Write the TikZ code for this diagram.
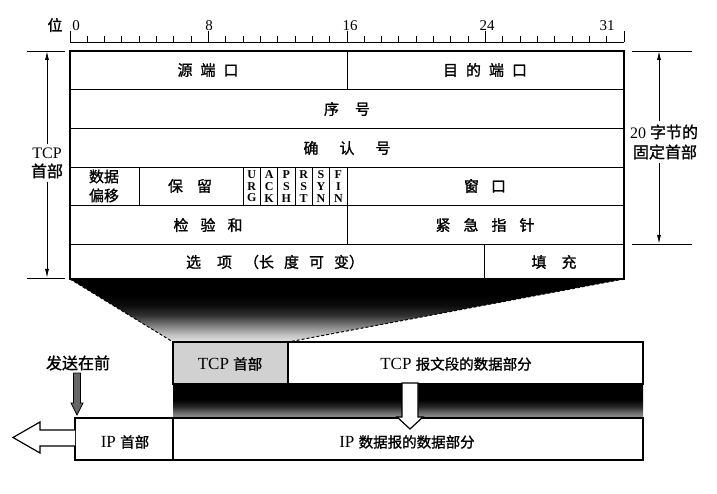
\documentclass[tikz,border=0pt]{standalone}
\usepackage{fontspec}
\setmainfont{Liberation Serif}
\newfontfamily\cjk[FakeBold=1.2]{Noto Sans CJK SC}
\usetikzlibrary{arrows.meta}
\newcommand\zh[1]{{\cjk #1}}
\newcommand\zs[1]{{\cjk\fontsize{14.5}{17}\selectfont #1}}
\newcommand\gp[1]{\hspace{#1pt}}
\pgfdeclareverticalshading{funnelshade}{100bp}{color(0bp)=(black!10); color(25bp)=(black!10); color(31bp)=(black!25); color(38bp)=(black!50); color(46bp)=(black!80); color(54bp)=(black!95); color(62bp)=(black); color(100bp)=(black)}
\pgfdeclareverticalshading{segshade}{100bp}{color(0bp)=(black!40); color(25bp)=(black!40); color(33bp)=(black!58); color(42bp)=(black!85); color(52bp)=(black); color(100bp)=(black)}
\begin{document}
\begin{tikzpicture}[x=1pt,y=-1pt,
  tb/.style={font=\cjk\fontsize{15}{18}\selectfont, inner sep=0pt},
  side/.style={font=\fontsize{16}{19}\selectfont, inner sep=3pt},
  sidezh/.style={font=\cjk\fontsize{16}{19}\selectfont, inner sep=3pt},
  boxt/.style={font=\fontsize{17}{20}\selectfont, inner sep=0pt},
  flag/.style={font=\bfseries\fontsize{12}{11.6}\selectfont, align=center, inner sep=0pt},
  rul/.style={font=\fontsize{15}{18}\selectfont, inner sep=0pt},
  dim/.style={line width=0.9pt, -{Latex[length=9pt,width=4pt]}},
  thinl/.style={line width=0.9pt},
  frame/.style={line width=1.6pt},
  hollow/.style={draw=black, fill=white, line width=1.2pt, line join=miter}]

\useasboundingbox (0,0) rectangle (717,494);

% ---------- ruler ----------
\draw[thinl] (70,42) -- (624,42);
\foreach \i in {0,...,32} \draw[thinl] ({70+\i*17.3125},42) -- ++(0,-6);
\foreach \i in {0,8,16,24,32} \draw[thinl] ({70+\i*17.3125},42) -- ++(0,-11);
\node[tb] (wei) at (55,25) {位};
\node[rul] (b0) at (76,26) {0};
\node[rul] (b8) at (209,26) {8};
\node[rul] (b16) at (350,26) {16};
\node[rul] (b24) at (487,26) {24};
\node[rul] (b31) at (607,26) {31};

% ---------- funnel shading ----------
\shade[shading=funnelshade]
  (70,279) -- (624,279) -- (288,342) -- (173,342) -- cycle;
\draw[dashed, line width=1pt, dash pattern=on 3pt off 2pt] (70,279) -- (173,342);
\draw[dashed, line width=1pt, dash pattern=on 3pt off 2pt] (624,279) -- (288,342);

% ---------- header table ----------
\fill[white] (70,51) rectangle (624,279);
\foreach \yy in {89.5,128,167,205.5,244} \draw[thinl] (70,\yy) -- (624,\yy);
\draw[thinl] (347,51) -- (347,89.5);
\draw[thinl] (139.25,167) -- (139.25,205.5);
\foreach \i in {10,...,15} \draw[thinl] ({70+\i*17.3125},167) -- ({70+\i*17.3125},205.5);
\draw[thinl] (347,167) -- (347,244);
\draw[thinl] (484.5,244) -- (484.5,279);
\draw[frame] (70,51) rectangle (624,279);

\node[tb] (srcport) at (208,70) {源\gp8端\gp8口};
\node[tb] (dstport) at (485,70) {目\gp8的\gp8端\gp8口};
\node[tb] (seq) at (347,109) {序\gp{16}号};
\node[tb] (ack) at (347,148) {确\gp{21}认\gp{21}号};
\node[tb, align=center, font=\cjk\fontsize{15}{19}\selectfont] (off) at (104,186) {数据\\偏移};
\node[tb] (rsv) at (190,186) {保\gp{14}留};
\node[flag] (urg) at ({70+10.5*17.3125},186.5) {U\\R\\G};
\node[flag] (ackf) at ({70+11.5*17.3125},186.5) {A\\C\\K};
\node[flag] (psh) at ({70+12.5*17.3125},186.5) {P\\S\\H};
\node[flag] (rst) at ({70+13.5*17.3125},186.5) {R\\S\\T};
\node[flag] (syn) at ({70+14.5*17.3125},186.5) {S\\Y\\N};
\node[flag] (fin) at ({70+15.5*17.3125},186.5) {F\\I\\N};
\node[tb] (win) at (485,186) {窗\gp{12}口};
\node[tb] (chk) at (208,225) {检\gp{12}验\gp{12}和};
\node[tb] (urgp) at (485,225) {紧\gp{13}急\gp{13}指\gp{13}针};
\node[tb] (opt) at (275,262) {选\gp{16}项\gp{12}（长\gp{10}度\gp{10}可\gp{10}变）};
\node[tb] (pad) at (554,262) {填\gp{15}充};

% ---------- left dimension ----------
\draw[thinl] (27,51) -- (65,51);
\draw[thinl] (27,278) -- (65,278);
\coordinate (ltop) at (47,51);
\coordinate (lbot) at (47,278);
\node[side] (tl1) at (47,153) {TCP};
\node[sidezh] (tl2) at (47,171) {首部};
\draw[dim] (tl1.north) -- (ltop);
\draw[dim] (tl2.south) -- (lbot);

% ---------- right dimension ----------
\draw[thinl] (632,51) -- (692,51);
\draw[thinl] (632,244) -- (692,244);
\coordinate (rtop) at (659,51);
\coordinate (rbot) at (659,244);
\node[side] (r1) at (664,132) {20 \zh{字节的}};
\node[sidezh] (r2) at (665,152) {固定首部};
\draw[dim] (r1.north -| rtop) -- (rtop);
\draw[dim] (r2.south -| rbot) -- (rbot);

% ---------- TCP segment ----------
\shade[shading=segshade] (173,384) rectangle (643,418);
\fill[black!18] (173,342) rectangle (288,384);
\draw[line width=1.5pt] (173,342) rectangle (643,384);
\draw[line width=1.2pt] (288,342) -- (288,384);
\node[boxt] (tcph) at (230,364) {TCP \zs{首部}};
\node[boxt] (tcpd) at (456,364) {TCP \zs{报文段的数据部分}};

% ---------- IP datagram ----------
\fill[white] (75,418) rectangle (643,460);
\draw[line width=1.5pt] (75,418) rectangle (643,460);
\draw[line width=1.2pt] (173,418) -- (173,460);
\node[boxt] (iph) at (125,442) {IP \zs{首部}};
\node[boxt] (ipd) at (407,442) {IP \zs{数据报的数据部分}};

% ---------- arrows ----------
\draw[hollow] (402,383) -- (402,417) -- (397,417) -- (410,429) -- (423,417) -- (418,417) -- (418,383) -- cycle;
\draw[hollow] (75,430) -- (40,430) -- (40,422) -- (13,437.5) -- (40,453) -- (40,446) -- (75,446);
\node[sidezh] (send) at (78,363) {发送在前};
\filldraw[fill=black!60, draw=black, line width=0.8pt]
  (73.5,373) -- (80.5,373) -- (80.5,403) -- (83,403) -- (77,415) -- (71,403) -- (73.5,403) -- cycle;
\end{tikzpicture}
\end{document}
